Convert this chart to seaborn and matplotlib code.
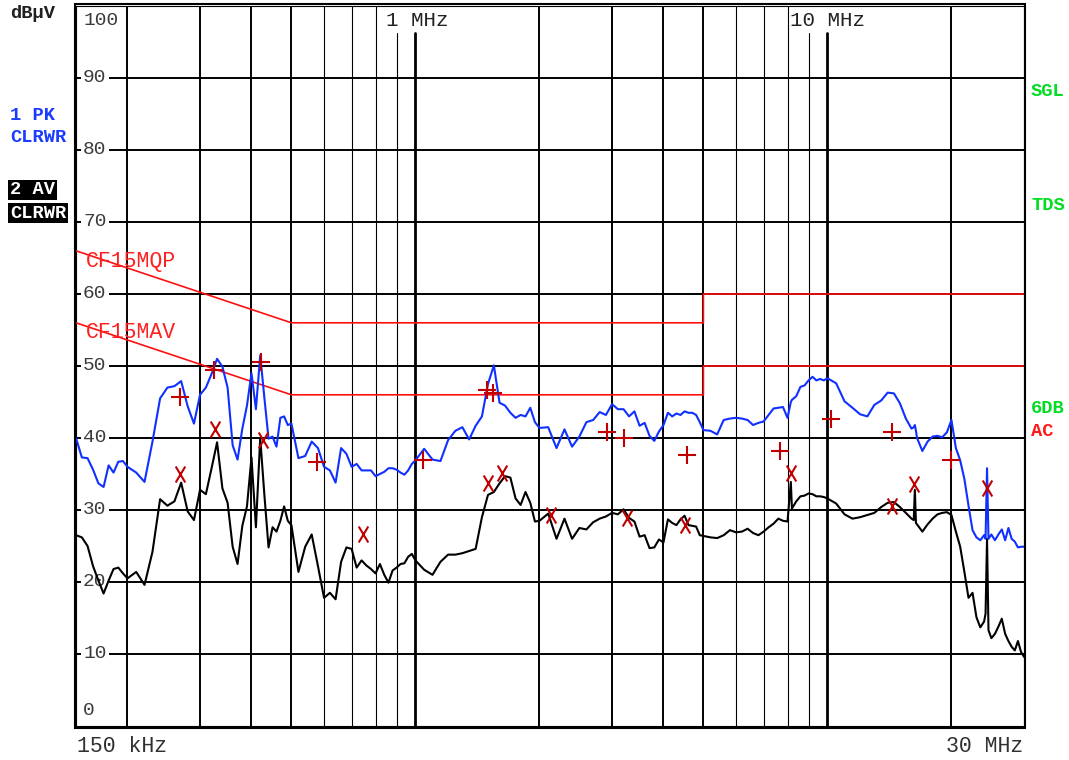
import matplotlib
matplotlib.use('Agg')
import matplotlib.pyplot as plt
from matplotlib.path import Path
from matplotlib.patches import Rectangle
import pandas as pd
import seaborn as sns

# sweep frequencies (MHz) and the two detector traces (dBuV)
freq_mhz = [0.150, 0.155, 0.160, 0.165, 0.170, 0.175, 0.180, 0.185, 0.190, 0.195, 0.200,
            0.21, 0.22, 0.23, 0.24, 0.25, 0.26, 0.27, 0.28, 0.29, 0.30,
            0.31, 0.32, 0.33, 0.34, 0.35, 0.36, 0.37, 0.38, 0.39, 0.40,
            0.41, 0.42, 0.43, 0.44, 0.45, 0.46, 0.47, 0.48, 0.49, 0.50,
            0.52, 0.54, 0.56, 0.58, 0.60, 0.62, 0.64, 0.66, 0.68, 0.70, 0.72, 0.74, 0.76,
            0.78, 0.80, 0.82, 0.84, 0.86, 0.88, 0.90, 0.92, 0.94, 0.96, 0.98, 1.00,
            1.05, 1.10, 1.15, 1.20, 1.25, 1.30, 1.35, 1.40, 1.45, 1.50,
            1.55, 1.60, 1.65, 1.70, 1.75, 1.80, 1.85, 1.90, 1.95, 2.00,
            2.1, 2.2, 2.3, 2.4, 2.5, 2.6, 2.7, 2.8, 2.9, 3.0,
            3.1, 3.2, 3.3, 3.4, 3.5, 3.6, 3.7, 3.8, 3.9, 4.0,
            4.1, 4.2, 4.3, 4.4, 4.5, 4.6, 4.7, 4.8, 4.9, 5.0,
            5.2, 5.4, 5.6, 5.8, 6.0, 6.2, 6.4, 6.6, 6.8, 7.0, 7.2, 7.4, 7.6, 7.8, 8.0,
            8.15, 8.2, 8.4, 8.6, 8.8, 9.0, 9.2, 9.4, 9.6, 9.8, 10.0,
            10.5, 11.0, 11.5, 12.0, 12.5, 13.0, 13.5, 14.0, 14.5, 15.0, 15.5, 16.0,
            16.2, 16.3, 16.4, 16.5, 17.0, 17.5, 18.0, 18.5, 19.0, 19.5, 20.0,
            20.5, 21.0, 21.5, 22.0, 22.5, 23.0, 23.5, 24.0, 24.2, 24.4, 24.6,
            25.0, 25.5, 26.0, 26.5, 27.0, 27.5, 28.0, 28.5, 29.0, 29.5, 30.0]

pk_dbuv = [40.0, 37.3, 37.2, 35.6, 33.7, 33.2, 36.2, 35.2, 36.7, 36.8, 36.0,
           35.2, 33.9, 39.5, 45.5, 47.0, 47.2, 47.9, 44.4, 42.0, 46.0,
           47.0, 48.9, 51.0, 49.9, 47.0, 39.0, 37.0, 41.3, 44.5, 49.0,
           44.0, 51.5, 45.5, 39.9, 40.2, 38.8, 42.8, 43.0, 41.8, 42.0,
           37.2, 37.5, 39.5, 38.6, 36.0, 35.5, 33.8, 38.6, 37.8, 36.0, 36.4, 35.5, 35.5,
           35.5, 34.7, 35.0, 35.3, 35.8, 35.8, 35.6, 35.2, 34.9, 35.5, 36.4, 36.9,
           38.5, 37.0, 36.8, 39.7, 41.0, 41.5, 39.8, 41.7, 43.0, 47.5,
           50.1, 44.9, 44.5, 43.5, 42.8, 43.2, 43.0, 44.2, 42.2, 41.4,
           41.5, 38.6, 41.2, 38.8, 40.2, 42.2, 42.5, 43.6, 43.2, 44.7,
           44.0, 44.0, 43.0, 43.7, 41.7, 42.1, 40.3, 39.6, 40.9, 41.8,
           43.5, 43.0, 43.4, 43.2, 43.7, 43.5, 43.5, 43.2, 42.2, 41.1,
           41.0, 40.5, 42.5, 42.7, 42.8, 42.7, 42.5, 41.8, 42.1, 42.3, 43.2, 44.1, 44.2, 44.3, 42.8,
           45.0, 45.3, 45.8, 47.1, 47.3, 48.0, 48.5, 48.0, 48.2, 48.0, 48.3,
           47.6, 45.1, 44.2, 43.3, 43.0, 44.6, 45.2, 46.3, 46.2, 44.8, 42.7, 41.3,
           41.5, 41.8, 41.0, 40.0, 38.2, 39.5, 40.2, 40.3, 40.1, 40.8, 42.5,
           38.6, 36.9, 34.3, 30.6, 27.2, 26.2, 25.8, 26.5, 26.0, 35.8, 26.0,
           26.6, 25.8, 26.6, 27.3, 25.8, 27.5, 26.0, 25.6, 24.8, 24.9, 24.9]

av_dbuv = [26.5, 26.2, 25.0, 22.2, 20.2, 18.4, 20.2, 21.8, 22.0, 21.2, 20.5,
           21.4, 19.6, 24.2, 31.5, 30.6, 31.2, 33.8, 29.8, 28.6, 32.8,
           32.2, 35.8, 39.4, 33.0, 31.0, 24.9, 22.5, 27.8, 30.5, 37.3,
           27.6, 40.0, 32.0, 24.8, 27.6, 27.0, 28.5, 30.5, 28.5, 27.9,
           21.4, 24.9, 26.6, 22.2, 17.8, 18.5, 17.6, 22.8, 24.8, 24.6, 22.0, 23.0, 22.3,
           21.8, 21.2, 22.5, 21.0, 19.9, 21.6, 22.0, 22.5, 22.6, 23.5, 23.9, 23.0,
           21.7, 21.0, 22.8, 23.8, 23.8, 24.0, 24.3, 24.6, 29.0, 32.1,
           32.5, 33.7, 34.7, 34.5, 31.6, 30.7, 32.5, 31.0, 28.4, 28.5,
           29.5, 26.0, 28.8, 26.0, 27.5, 27.3, 28.3, 28.8, 29.1, 29.6,
           29.4, 30.1, 28.9, 28.4, 26.3, 26.5, 24.7, 24.8, 25.9, 25.5,
           28.7, 28.2, 27.9, 28.7, 29.2, 27.9, 27.8, 27.7, 26.5, 26.4,
           26.2, 26.1, 26.5, 27.2, 26.9, 27.0, 27.4, 26.8, 26.5, 27.0, 27.6, 28.1, 28.8, 28.5, 28.4,
           33.9, 30.2, 31.2, 31.9, 32.0, 32.3, 32.2, 31.9, 31.9, 31.8, 31.6,
           30.9, 29.4, 28.8, 29.0, 29.3, 29.6, 30.4, 31.0, 31.1, 30.4, 29.6, 28.8,
           28.6, 32.8, 28.2, 28.0, 27.0, 28.0, 28.8, 29.4, 29.6, 29.7, 29.3,
           27.0, 24.9, 21.4, 17.8, 18.5, 15.1, 13.7, 14.5, 15.6, 26.0, 13.3,
           12.2, 12.8, 13.8, 14.9, 12.8, 11.8, 11.0, 10.5, 11.8, 10.3, 9.6]

# limit lines
qp_limit_freq = [0.15, 0.5, 5.0, 5.0, 30.0]
qp_limit_db = [66, 56, 56, 60, 60]
av_limit_freq = [0.15, 0.5, 5.0, 5.0, 30.0]
av_limit_db = [56, 46, 46, 50, 50]

# final measurement markers
qp_meas_freq = [0.268, 0.324, 0.422, 0.576, 1.045, 1.489, 1.545, 2.921, 3.213, 4.568, 7.666, 10.20, 14.31, 19.91]
qp_meas_db = [45.7, 49.5, 50.6, 36.6, 37.0, 46.7, 46.2, 40.9, 40.0, 37.6, 38.2, 42.6, 40.8, 36.9]
av_meas_freq = [0.268, 0.327, 0.427, 0.747, 1.502, 1.619, 2.133, 3.256, 4.509, 8.153, 14.31, 16.24, 24.34]
av_meas_db = [35.0, 41.3, 39.7, 26.6, 33.7, 35.1, 29.3, 28.9, 27.9, 35.1, 30.6, 33.6, 33.1]

y_ticks = [100, 90, 80, 70, 60, 50, 40, 30, 20, 10, 0]

df = pd.DataFrame({'freq': freq_mhz, 'pk': pk_dbuv, 'av': av_dbuv})

sns.set_style('white')
plt.rcParams['font.family'] = ['Liberation Mono', 'DejaVu Sans Mono']

W, H = 1069, 760
fig = plt.figure(figsize=(W / 100, H / 100), dpi=100)
ax = fig.add_axes([76 / W, 34 / H, 948 / W, 720 / H])
ax.set_xscale('log')
ax.set_xlim(0.15, 30)
ax.set_ylim(0, 100)
ax.set_xticks([])
ax.set_yticks([])
ax.minorticks_off()
for s in ax.spines.values():
    s.set_color('black')
    s.set_linewidth(0.8)

# grid
for v in range(10, 100, 10):
    ax.axhline(v, color='black', lw=1.4, zorder=1)
for dec in [0.1, 1, 10]:
    for m in range(2, 10):
        f = m * dec
        if f <= 0.15 or f >= 30:
            continue
        lw = 1.4 if m <= 5 else 0.8
        top = 0.963 if f in (0.9, 9) else 1
        ax.axvline(f, ymax=top, color='black', lw=lw, zorder=1)
for f in [1, 10]:
    ax.axvline(f, ymax=0.963, color='black', lw=2.0, zorder=1)

# y labels inside the plot (under the traces)
for v in y_ticks:
    yy = 98.0 if v == 100 else (2.2 if v == 0 else v)
    ax.text(0.0075, yy, str(v), transform=ax.get_yaxis_transform(), ha='left', va='center',
            fontsize=14, color='#3a3a3a', zorder=2,
            bbox=dict(facecolor='white', edgecolor='none', pad=1.5))

# limits
sns.lineplot(x=qp_limit_freq, y=qp_limit_db, ax=ax, color='#ff1010', lw=1.2, sort=False, estimator=None, zorder=3)
sns.lineplot(x=av_limit_freq, y=av_limit_db, ax=ax, color='#ff1010', lw=1.2, sort=False, estimator=None, zorder=3)

# traces
sns.lineplot(data=df, x='freq', y='av', ax=ax, color='black', lw=1.5, sort=False, estimator=None, zorder=4)
sns.lineplot(data=df, x='freq', y='pk', ax=ax, color='#1030ff', lw=1.5, sort=False, estimator=None, zorder=5)

# markers
x_mark = Path([(-0.3, -0.5), (0.3, 0.5), (-0.3, 0.5), (0.3, -0.5)],
              [Path.MOVETO, Path.LINETO, Path.MOVETO, Path.LINETO])
ax.plot(qp_meas_freq, qp_meas_db, ls='none', marker='+', ms=12.5, mew=1.5, color='#c00000', zorder=6)
ax.plot(av_meas_freq, av_meas_db, ls='none', marker=x_mark, ms=11.5, mew=1.5, color='#c00000', zorder=6)
ax.set_xlabel('')
ax.set_ylabel('')

ax.text(0.848, 98.0, '1 MHz', ha='left', va='center', fontsize=15, color='#222222', zorder=7)
ax.text(8.11, 98.0, '10 MHz', ha='left', va='center', fontsize=15, color='#222222', zorder=7)
ax.text(0.1587, 64.5, 'CF15MQP', ha='left', va='center', fontsize=15.5, color='#ff2020', zorder=7)
ax.text(0.1587, 54.6, 'CF15MAV', ha='left', va='center', fontsize=15.5, color='#ff2020', zorder=7)

# double frame
fig.patches.append(Rectangle((74.5 / W, 1 - 728 / H), 950.5 / W, 724 / H, transform=fig.transFigure,
                             fill=False, edgecolor='black', lw=1.5, zorder=10))

def ftext(x, y, s, **kw):
    fig.text(x / W, 1 - y / H, s, va='center', **kw)

ftext(10, 14, 'dBµV', fontsize=13.5, fontweight='bold', color='#202020')
ftext(10, 115, '1 PK', fontsize=13.5, fontweight='bold', color='#1a3cff')
ftext(10, 138, 'CLRWR', fontsize=13.5, fontweight='bold', color='#1a3cff')
ftext(10, 190, '2 AV', fontsize=13.5, fontweight='bold', color='white',
      bbox=dict(facecolor='black', edgecolor='none', pad=1.2))
ftext(10, 213, 'CLRWR', fontsize=13.5, fontweight='bold', color='white',
      bbox=dict(facecolor='black', edgecolor='none', pad=1.2))
ftext(1031, 91, 'SGL', fontsize=13.5, fontweight='bold', color='#00dd22')
ftext(1031, 205, 'TDS', fontsize=13.5, fontweight='bold', color='#00dd22')
ftext(1031, 409, '6DB', fontsize=13.5, fontweight='bold', color='#00dd22')
ftext(1031, 432, 'AC', fontsize=13.5, fontweight='bold', color='#ff1a1a')
ftext(77, 746, '150 kHz', fontsize=15.5, color='#303030')
fig.text(1023 / W, 1 - 746 / H, '30 MHz', ha='right', va='center', fontsize=15.5, color='#303030')

fig.savefig('out.png', dpi=100)
